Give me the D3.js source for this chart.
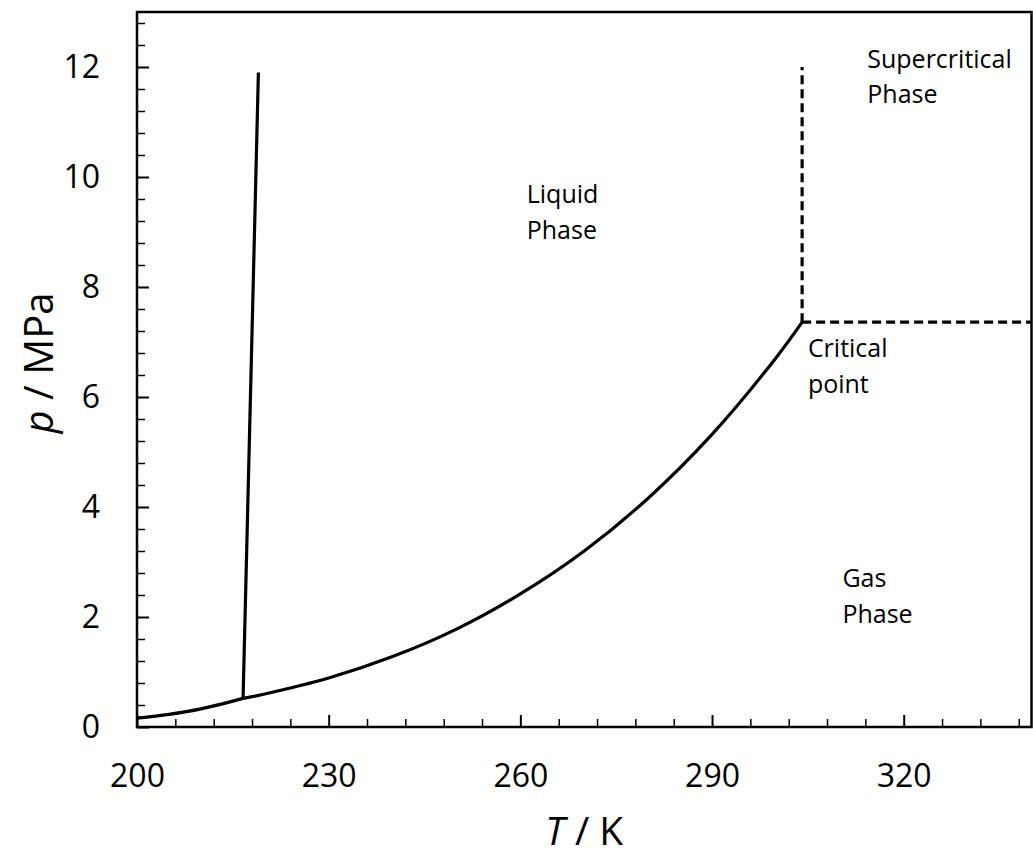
<!DOCTYPE html>
<meta charset="utf-8">
<script src="https://d3js.org/d3.v7.min.js"></script>
<style>
  body { margin: 0; background: #fff; }
  text { font-family: "Open Sans", sans-serif; fill: #000; }
</style>
<div id="phase-chart"></div>
<script>

// sublimation curve (solid - gas)
var subT = [200, 205, 210, 216.6];
var subP = [0.16, 0.23, 0.33, 0.52];

// vaporization curve (liquid - gas), triple point to critical point
var vapT = [216.6, 220, 230, 240, 250, 260, 270, 280, 290, 300, 304.1];
var vapP = [0.52, 0.60, 0.89, 1.28, 1.78, 2.42, 3.2, 4.16, 5.32, 6.71, 7.36];

// melting curve (solid - liquid)
var meltT = [216.6, 219];
var meltP = [0.52, 11.9];

// dashed boundaries of the supercritical region
var critT = 304.1, critP = 7.36;
var superTopP = 12, superRightT = 340;

// tick labels
var xTicks = [200, 230, 260, 290, 320];
var yTicks = [0, 2, 4, 6, 8, 10, 12];

// region labels, anchored in data units (T, p of first baseline)
var labelLines = [["Liquid", "Phase"], ["Supercritical", "Phase"], ["Critical", "point"], ["Gas", "Phase"]];
var labelT = [261, 314.3, 305, 310.4];
var labelP = [9.52, 11.99, 6.72, 2.54];

var margin = {top: 12, right: 1.5, bottom: 131, left: 137},
    width = 1033 - margin.left - margin.right,
    height = 858 - margin.top - margin.bottom;

var svg = d3.select("#phase-chart")
  .append("svg")
    .attr("width", 1033)
    .attr("height", 858)
  .append("g")
    .attr("transform", "translate(" + margin.left + "," + margin.top + ")");

var x = d3.scaleLinear().domain([200, 340]).range([0, width]);
var y = d3.scaleLinear().domain([0, 13]).range([height, 0]);

// minor ticks (inward)
svg.append("g")
  .attr("transform", "translate(0," + height + ")")
  .call(d3.axisBottom(x).tickValues(d3.range(206, 340, 6).filter(function(v) { return (v - 200) % 30 != 0; }))
    .tickSize(-8).tickSizeOuter(0).tickFormat(""))
  .call(function(g) { g.select(".domain").remove(); g.selectAll("line").attr("stroke-width", 1.5); });
svg.append("g")
  .call(d3.axisLeft(y).tickValues(d3.range(0.4, 13, 0.4).filter(function(v) { return Math.abs(v / 2 - Math.round(v / 2)) > 0.01; }))
    .tickSize(-8).tickSizeOuter(0).tickFormat(""))
  .call(function(g) { g.select(".domain").remove(); g.selectAll("line").attr("stroke-width", 1.5); });

// major ticks + labels
var xAxis = svg.append("g")
  .attr("transform", "translate(0," + height + ")")
  .call(d3.axisBottom(x).tickValues(xTicks).tickSize(-12).tickSizeOuter(0).tickPadding(37));
var yAxis = svg.append("g")
  .call(d3.axisLeft(y).tickValues(yTicks).tickSize(-12).tickSizeOuter(0).tickPadding(37));

[xAxis, yAxis].forEach(function(g) {
  g.select(".domain").remove();
  g.selectAll("line").attr("stroke", "#000").attr("stroke-width", 2);
  g.selectAll("text").style("font-family", "'Open Sans', sans-serif").style("font-size", "32px").attr("fill", "#000");
});

// frame
svg.append("rect")
  .attr("x", 0).attr("y", 0)
  .attr("width", width).attr("height", height)
  .attr("fill", "none")
  .attr("stroke", "#000")
  .attr("stroke-width", 2.5);

var smooth = d3.line()
  .x(function(d) { return x(d[0]); })
  .y(function(d) { return y(d[1]); })
  .curve(d3.curveCatmullRom);
var straight = d3.line()
  .x(function(d) { return x(d[0]); })
  .y(function(d) { return y(d[1]); });

function drawLine(ts, ps, dashed) {
  svg.append("path")
    .datum(ts.map(function(t, i) { return [t, ps[i]]; }))
    .attr("fill", "none")
    .attr("stroke", "#000")
    .attr("stroke-width", 3.2)
    .attr("stroke-linejoin", "round")
    .attr("stroke-dasharray", dashed ? "9,5" : null)
    .attr("d", dashed ? straight : smooth);
}

drawLine(subT, subP, false);
drawLine(vapT, vapP, false);
drawLine(meltT, meltP, false);
drawLine([critT, critT], [critP, superTopP], true);
drawLine([critT, superRightT], [critP, critP], true);

// region labels
labelLines.forEach(function(lines, i) {
  var t = svg.append("text")
    .attr("x", x(labelT[i]))
    .attr("y", y(labelP[i]))
    .style("font-size", "25px");
  lines.forEach(function(s, j) {
    t.append("tspan")
      .attr("x", x(labelT[i]))
      .attr("dy", j == 0 ? 0 : 35.5)
      .text(s);
  });
});

// axis titles
svg.append("text")
  .attr("x", width / 2)
  .attr("y", height + 118)
  .attr("text-anchor", "middle")
  .style("font-size", "39px")
  .html("<tspan font-style='italic'>T</tspan> / K");

svg.append("text")
  .attr("transform", "translate(" + (53 - margin.left) + "," + (363 - margin.top) + ") rotate(-90)")
  .attr("text-anchor", "middle")
  .style("font-size", "40px")
  .html("<tspan font-style='italic'>p</tspan> / MPa");

</script>
